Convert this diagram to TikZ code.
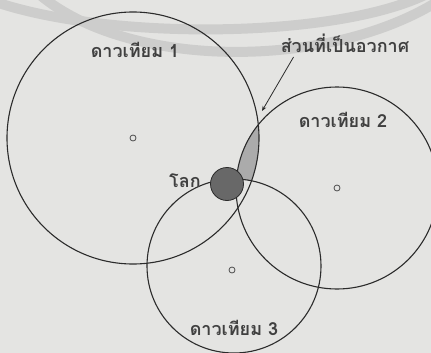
\documentclass[tikz,border=0pt]{standalone}
\usepackage{fontspec}
\newfontfamily\thaifont[Script=Thai]{Loma}
\usetikzlibrary{arrows.meta}
\definecolor{paper}{HTML}{E4E4E2}
\definecolor{band}{HTML}{CDCDCC}
\definecolor{ink}{HTML}{2B2B2B}
\definecolor{lensgray}{HTML}{ABABAB}
\definecolor{earthgray}{HTML}{686868}

\begin{document}
\begin{tikzpicture}[
  x=1pt, y=-1pt,
  orbit/.style={draw=ink, line width=1.1pt},
  centre/.style={circle, draw=ink!85, line width=0.8pt, fill=paper, minimum size=6pt, inner sep=0pt},
  thaitext/.style={font=\thaifont\bfseries\fontsize{18}{21}\selectfont, text=ink!90, anchor=base, inner sep=0pt},
  arrow/.style={-{Stealth[length=5pt, width=4pt]}, draw=ink, line width=0.8pt}
]
  % Page
  \fill[paper] (0,0) rectangle (431,353);
  \useasboundingbox (0,0) rectangle (431,353);
  \draw[band, line width=10pt] (-10,0) .. controls (100,40) and (330,40) .. (425,-5);
  \draw[band, line width=10pt] (40,-5) .. controls (130,70) and (330,70) .. (440,0);

  % Satellite footprints
  \coordinate (s1) at (133,138);
  \coordinate (s2) at (337,188);
  \coordinate (s3) at (234,266);

  % Space seen by two satellites only
  \begin{scope}
    \clip (s1) circle (126pt);
    \clip (s2) circle (101pt);
    \fill[lensgray, even odd rule] (0,0) rectangle (431,353) (s3) circle (87pt);
  \end{scope}

  \draw[orbit] (s1) circle (126pt);
  \draw[orbit] (s2) circle (101pt);
  \draw[orbit] (s3) circle (87pt);

  \node[centre] (dot1) at (133,138) {};
  \node[centre] (dot2) at (337,188) {};
  \node[centre] (dot3) at (232,270) {};

  % Earth
  \node[circle, draw=ink, line width=0.8pt, fill=earthgray, minimum size=33pt, inner sep=0pt] (earth) at (227,184) {};

  % Labels
  \node[thaitext] (sat1) at (135,58) {ดาวเทียม 1};
  \node[thaitext] (sat2) at (343,127) {ดาวเทียม 2};
  \node[thaitext] (sat3) at (234,335) {ดาวเทียม 3};
  \node[thaitext] (space) at (345,53) {ส่วนที่เป็นอวกาศ};
  \node[thaitext, anchor=base east] (earthname) at (201,187) {โลก};
  \coordinate (lenstop) at (262,111);

  \draw[arrow] ([xshift=13pt, yshift=-4pt]space.base west) -- (lenstop);
\end{tikzpicture}
\end{document}
